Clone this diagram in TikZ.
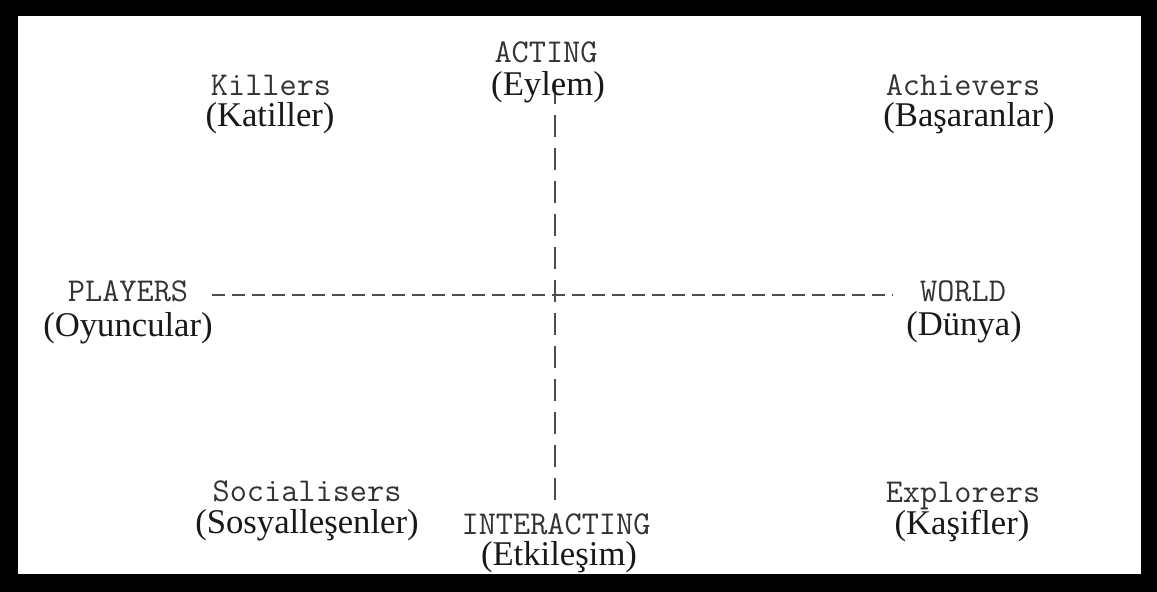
\documentclass[tikz,border=0pt]{standalone}
\usepackage{fontspec}
\setmainfont{Liberation Serif}
\begin{document}
\begin{tikzpicture}[x=0.75pt,y=-0.75pt,
    eng/.style={font=\ttfamily\fontsize{25}{28}\selectfont, text=black!80, inner sep=0pt, anchor=base},
    tur/.style={font=\fontsize{26}{30}\selectfont, text=black!90, inner sep=0pt, anchor=base},
    axisline/.style={line width=1.5pt, black!70}]
    % Cerceve
    \fill[black] (0,0) rectangle (1157,592);
    \fill[white] (18,16) rectangle (1141,574);
    \useasboundingbox (0,0) rectangle (1157,592);
    % Eksen uclari
    \coordinate (sol) at (212,295);
    \coordinate (sag) at (893,295);
    \coordinate (ust) at (555,82);
    \coordinate (alt) at (555,508);
    % Eksenler (kesikli)
    \draw[axisline, dash pattern=on 9.75pt off 5.25pt] (sol) -- (sag);
    \draw[axisline, dash pattern=on 16.5pt off 8.25pt] (ust) -- (alt);
    % Ingilizce etiketler
    \foreach \n/\x/\y/\t in {acting/546/63/ACTING, players/128/301/PLAYERS,
        world/963/301/WORLD, interacting/556/534/INTERACTING,
        killers/271/96/Killers, achievers/963/96/Achievers,
        socialisers/307/501/Socialisers, explorers/963/502/Explorers}
        \node[eng] (\n) at (\x,\y) {\t};
    % Turkce karsiliklar
    \foreach \n/\x/\y/\t in {eylem/548/95/{(Eylem)}, oyuncular/128/336/{(Oyuncular)},
        dunya/964/335/{(Dünya)}, etkilesim/559/565/{(Etkileşim)},
        katiller/270/127/{(Katiller)}, basaranlar/969/127/{(Başaranlar)},
        sosyal/307/533/{(Sosyalleşenler)}, kasifler/962/534/{(Kaşifler)}}
        \node[tur] (\n) at (\x,\y) {\t};
\end{tikzpicture}
\end{document}
